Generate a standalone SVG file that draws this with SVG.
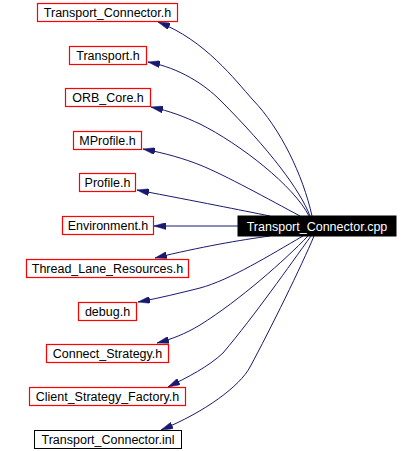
<svg xmlns="http://www.w3.org/2000/svg" width="420" height="451" viewBox="0 0 420 451">
<defs>
<style>
.r{fill:#ffffff;stroke:#ff0000;stroke-width:1.2}
.k{fill:#ffffff;stroke:#000000;stroke-width:1}
.t{font-family:"Liberation Sans",Arial,Helvetica,sans-serif;font-size:12.5px;fill:#000000;text-anchor:middle}
.mr{fill:#000000;stroke:#000000}
.mt{font-family:"Liberation Sans",Arial,Helvetica,sans-serif;font-size:12.5px;fill:#ffffff;text-anchor:middle}
.e path{fill:none;stroke:#191970;stroke-width:1;marker-end:url(#ah)}
</style>
<marker id="ah" markerUnits="userSpaceOnUse" viewBox="0 0 12 7" refX="12" refY="3.5" markerWidth="12" markerHeight="7" orient="auto">
<path d="M0,0 L12,3.5 L0,7 z" fill="#191970" stroke="#191970" stroke-width="0.5"/>
</marker>
</defs>
<rect width="420" height="451" fill="#ffffff"/>
<g id="edges" class="e">
<path d="M312,216 C303,175 280,128 253,100 C235,80 205,40 158,22"/>
<path d="M310,216 C300,190 270,150 220,100 C205,85 180,68 148,62"/>
<path d="M309,216 C294,186 240,144 200,124 C185,117 170,111 151,107"/>
<path d="M300,216 C270,200 225,175 200,165 C185,159 165,153 143,149"/>
<path d="M270,216 C240,210 200,202 137,190"/>
<path d="M238,226 L154,226"/>
<path d="M270,236 C240,240 200,247 155,258"/>
<path d="M303,236 C270,255 230,280 200,288 C180,293 160,298 138,302"/>
<path d="M308,236 C285,260 240,300 200,325 C185,334 172,339 157,343"/>
<path d="M311,236 C290,265 255,315 223,353 C208,367 188,377 168,387"/>
<path d="M314,236 C302,265 270,330 250,367 C240,386 205,412 161,430"/>
</g>
<g id="node_main"><rect class="mr" x="238" y="216" width="158" height="20"/><text class="mt" x="317" y="231">Transport_Connector.cpp</text></g>
<g id="node1"><rect class="r" x="37.5" y="3.5" width="140" height="18"/><text class="t" x="107.5" y="17">Transport_Connector.h</text></g>
<g id="node2"><rect class="r" x="69.5" y="46.5" width="77" height="18"/><text class="t" x="108" y="60">Transport.h</text></g>
<g id="node3"><rect class="r" x="65.5" y="88.5" width="85" height="18"/><text class="t" x="108" y="102">ORB_Core.h</text></g>
<g id="node4"><rect class="r" x="73.5" y="131.5" width="68" height="18"/><text class="t" x="107.5" y="145">MProfile.h</text></g>
<g id="node5"><rect class="r" x="79.5" y="173.5" width="56" height="18"/><text class="t" x="107.5" y="187">Profile.h</text></g>
<g id="node6"><rect class="r" x="62.5" y="216.5" width="91" height="18"/><text class="t" x="108" y="230">Environment.h</text></g>
<g id="node7"><rect class="r" x="26.5" y="259.5" width="162" height="18"/><text class="t" x="107.5" y="273">Thread_Lane_Resources.h</text></g>
<g id="node8"><rect class="r" x="78.5" y="302.5" width="58" height="18"/><text class="t" x="107.5" y="316">debug.h</text></g>
<g id="node9"><rect class="r" x="46.5" y="344.5" width="122" height="18"/><text class="t" x="107.5" y="358">Connect_Strategy.h</text></g>
<g id="node10"><rect class="r" x="29.5" y="387.5" width="156" height="18"/><text class="t" x="107.5" y="401">Client_Strategy_Factory.h</text></g>
<g id="node11"><rect class="k" x="34.5" y="430.5" width="147" height="18"/><text class="t" x="108" y="444">Transport_Connector.inl</text></g>
</svg>
